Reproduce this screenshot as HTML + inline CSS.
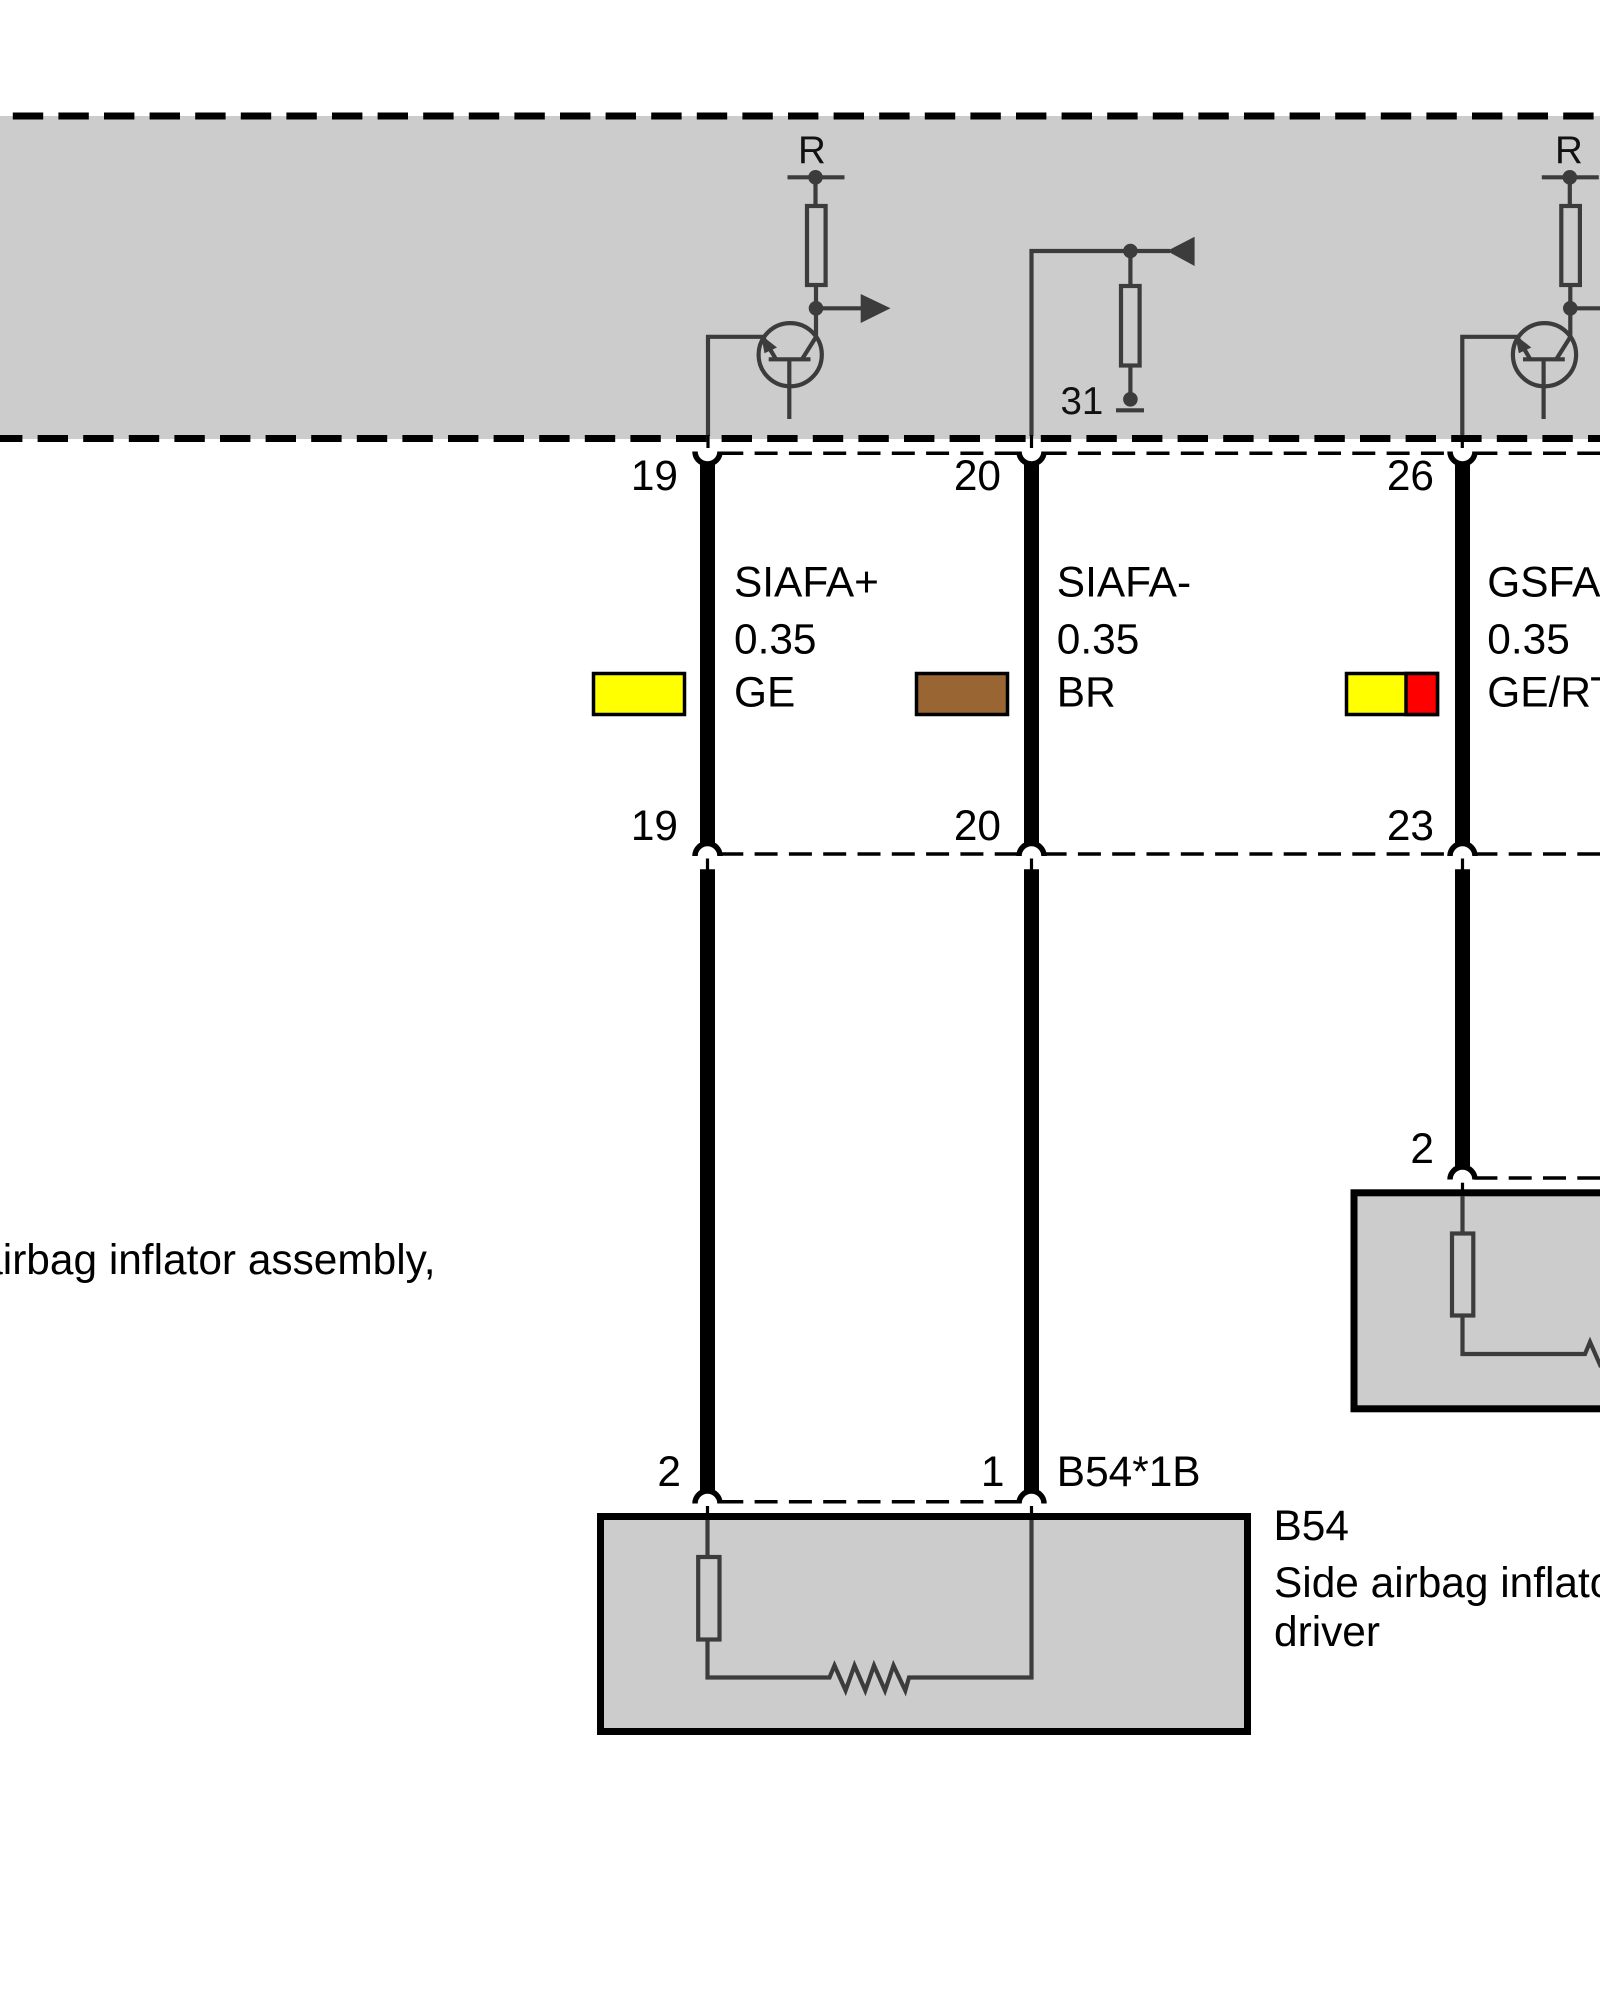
<!DOCTYPE html>
<html lang="en">
<head>
<meta charset="utf-8">
<title>Side airbag inflator wiring diagram</title>
<style>
html,body{margin:0;padding:0;background:#fff;width:1600px;height:2000px;overflow:hidden}
svg{display:block}
text{font-family:"Liberation Sans",Arial,sans-serif;font-size:42.4px;fill:#000}
.s{font-size:38.5px;fill:#111}
.e{text-anchor:end}
.g{stroke:#3c3c3c;stroke-width:4.2;fill:none}
.d{fill:#3c3c3c;stroke:none}
.w{stroke:#000;stroke-width:15;fill:none}
.a{stroke:#000;stroke-width:5.5;fill:none}
.t{stroke:#000;stroke-width:3.5;stroke-dasharray:23 11.3;fill:none}
.k{stroke:#000;stroke-width:7;stroke-dasharray:30.4 15.2;fill:none}
.b{stroke:#000;stroke-width:3.2;fill:none}
</style>
</head>
<body>
<svg xmlns="http://www.w3.org/2000/svg" width="1600" height="2000" viewBox="0 0 1600 2000">
<defs>
<g id="tr">
  <line class="g" x1="787.5" y1="177.3" x2="844.5" y2="177.3"/>
  <circle class="d" cx="815.5" cy="177.3" r="7.3"/>
  <line class="g" x1="815.5" y1="177" x2="815.5" y2="206"/>
  <rect class="g" x="807" y="206" width="18.6" height="79"/>
  <line class="g" x1="816" y1="285" x2="816" y2="337"/>
  <circle class="d" cx="816" cy="308.3" r="7.3"/>
  <circle class="g" cx="790.2" cy="354.7" r="31.6"/>
  <line class="g" x1="816" y1="337" x2="802" y2="359.3"/>
  <line class="g" x1="768.7" y1="359.3" x2="810.5" y2="359.3"/>
  <line class="g" x1="789.3" y1="359.3" x2="789.3" y2="419"/>
  <line class="g" x1="776" y1="359.3" x2="764" y2="339"/>
  <polygon class="d" points="761,335 764.5,353.3 777,347.5"/>
  <polyline class="g" points="763,336.8 708,336.8 708,436"/>
  <line class="b" x1="708" y1="435" x2="708" y2="448"/>
</g>
</defs>

<!-- grey controller area -->
<rect x="0" y="116" width="1600" height="323" fill="#cccccc"/>
<line class="k" x1="-32.8" y1="116" x2="1600" y2="116"/>
<line class="k" x1="-8" y1="438.5" x2="1600" y2="438.5"/>

<!-- transistor circuits -->
<use href="#tr"/>
<use href="#tr" x="754.3"/>
<line class="g" x1="816" y1="308.3" x2="862" y2="308.3"/>
<polygon class="d" points="860.7,294 890.5,308.3 860.7,323"/>
<line class="g" x1="1570" y1="308.3" x2="1600" y2="308.3"/>

<text class="s" x="798" y="163">R</text>
<text class="s" x="1555" y="163">R</text>

<!-- centre pull-down -->
<polyline class="g" points="1031.5,436 1031.5,251 1170,251"/>
<line class="b" x1="1031.5" y1="435" x2="1031.5" y2="448"/>
<polygon class="d" points="1167,251 1194.6,236.7 1194.6,266"/>
<circle class="d" cx="1130.4" cy="251" r="7.3"/>
<line class="g" x1="1130.4" y1="251" x2="1130.4" y2="285"/>
<rect class="g" x="1121" y="286" width="18.6" height="79.5"/>
<line class="g" x1="1130.4" y1="365.5" x2="1130.4" y2="399"/>
<circle class="d" cx="1130.4" cy="399.3" r="7.3"/>
<line class="g" x1="1116" y1="410.3" x2="1144" y2="410.3"/>
<text class="s" x="1060.5" y="414">31</text>

<!-- dashed connector lines -->
<line class="t" x1="720.3" y1="453.3" x2="1017" y2="453.3"/>
<line class="t" x1="1043.6" y1="453.3" x2="1448" y2="453.3"/>
<line class="t" x1="1474.4" y1="453.3" x2="1600" y2="453.3"/>
<line class="t" x1="720.3" y1="854" x2="1017" y2="854"/>
<line class="t" x1="1043.6" y1="854" x2="1448" y2="854"/>
<line class="t" x1="1474.4" y1="854" x2="1600" y2="854"/>
<line class="t" x1="720.3" y1="1501.8" x2="1017" y2="1501.8"/>
<line class="t" x1="1474.4" y1="1178" x2="1600" y2="1178"/>

<!-- thick wires -->
<line class="w" x1="707.5" y1="464" x2="707.5" y2="843"/>
<line class="w" x1="1031.5" y1="464" x2="1031.5" y2="843"/>
<line class="w" x1="1462.5" y1="464" x2="1462.5" y2="843"/>
<line class="w" x1="707.5" y1="869.3" x2="707.5" y2="1491"/>
<line class="w" x1="1031.5" y1="869.3" x2="1031.5" y2="1491"/>
<line class="w" x1="1462.5" y1="869.3" x2="1462.5" y2="1167"/>

<!-- cups -->
<path class="a" d="M695 451.5A12.5 12.5 0 0 0 720 451.5"/>
<path class="a" d="M1019 451.5A12.5 12.5 0 0 0 1044 451.5"/>
<path class="a" d="M1450 451.5A12.5 12.5 0 0 0 1475 451.5"/>
<!-- arches -->
<path class="a" d="M695 856A12.5 12.5 0 0 1 720 856"/>
<path class="a" d="M1019 856A12.5 12.5 0 0 1 1044 856"/>
<path class="a" d="M1450 856A12.5 12.5 0 0 1 1475 856"/>
<path class="a" d="M695 1503.5A12.5 12.5 0 0 1 720 1503.5"/>
<path class="a" d="M1019 1503.5A12.5 12.5 0 0 1 1044 1503.5"/>
<path class="a" d="M1450 1179.5A12.5 12.5 0 0 1 1475 1179.5"/>
<!-- stubs -->
<line class="b" x1="707.5" y1="858.5" x2="707.5" y2="870"/>
<line class="b" x1="1031.5" y1="858.5" x2="1031.5" y2="870"/>
<line class="b" x1="1462.5" y1="858.5" x2="1462.5" y2="870"/>

<!-- wire colour swatches -->
<rect x="593.5" y="673.5" width="91" height="41" fill="#ffff00" stroke="#000" stroke-width="3.5"/>
<rect x="916.5" y="673.5" width="91" height="41" fill="#996633" stroke="#000" stroke-width="3.5"/>
<rect x="1346.5" y="673.5" width="91" height="41" fill="#ffff00" stroke="#000" stroke-width="3.5"/>
<rect x="1406" y="673.5" width="31.5" height="41" fill="#ff0000" stroke="#000" stroke-width="3.5"/>

<!-- box B54 -->
<rect x="600.5" y="1516.5" width="647" height="215" fill="#cccccc" stroke="#000" stroke-width="7"/>
<line class="b" x1="707.5" y1="1506" x2="707.5" y2="1520"/>
<line class="b" x1="1031.5" y1="1506" x2="1031.5" y2="1520"/>
<line class="g" x1="707.5" y1="1520" x2="707.5" y2="1556"/>
<rect class="g" x="698.2" y="1557" width="21.3" height="82.5"/>
<polyline class="g" points="707.5,1639.5 707.5,1677.5 829.5,1677.5 834.5,1665.5 845.6,1690.5 854.5,1665.5 865.3,1690.5 874,1665.5 885,1690.5 893.5,1665.5 905.3,1690.5 909,1677.5 1031.5,1677.5 1031.5,1520"/>

<!-- second box -->
<rect x="1354" y="1192.8" width="260" height="216" fill="#cccccc" stroke="#000" stroke-width="7"/>
<line class="b" x1="1462.5" y1="1182.7" x2="1462.5" y2="1196"/>
<line class="g" x1="1462.5" y1="1196" x2="1462.5" y2="1232"/>
<rect class="g" x="1452" y="1233.5" width="21.3" height="82"/>
<polyline class="g" points="1462.5,1316 1462.5,1354 1585,1354 1590,1342 1601,1367"/>

<!-- labels -->
<text class="e" x="678" y="490">19</text>
<text class="e" x="1001" y="490">20</text>
<text class="e" x="1434" y="490">26</text>
<text class="e" x="678" y="840">19</text>
<text class="e" x="1001" y="840">20</text>
<text class="e" x="1434" y="840">23</text>
<text x="734" y="596.7">SIAFA+</text>
<text x="734" y="653.5">0.35</text>
<text x="734" y="706.7">GE</text>
<text x="1056.8" y="596.7">SIAFA-</text>
<text x="1056.8" y="653.5">0.35</text>
<text x="1056.8" y="706.7">BR</text>
<text x="1487.3" y="596.7">GSFA+</text>
<text x="1487.3" y="653.5">0.35</text>
<text x="1487.3" y="706.7">GE/RT</text>
<text class="e" x="681" y="1486">2</text>
<text class="e" x="1004.5" y="1486">1</text>
<text x="1056.8" y="1486">B54*1B</text>
<text class="e" x="1434" y="1163">2</text>
<text x="1273.5" y="1540">B54</text>
<text x="1274" y="1597">Side airbag inflator assembly,</text>
<text x="1274" y="1646">driver</text>
<text class="e" x="435.5" y="1274">Side airbag inflator assembly,</text>
</svg>
</body>
</html>
